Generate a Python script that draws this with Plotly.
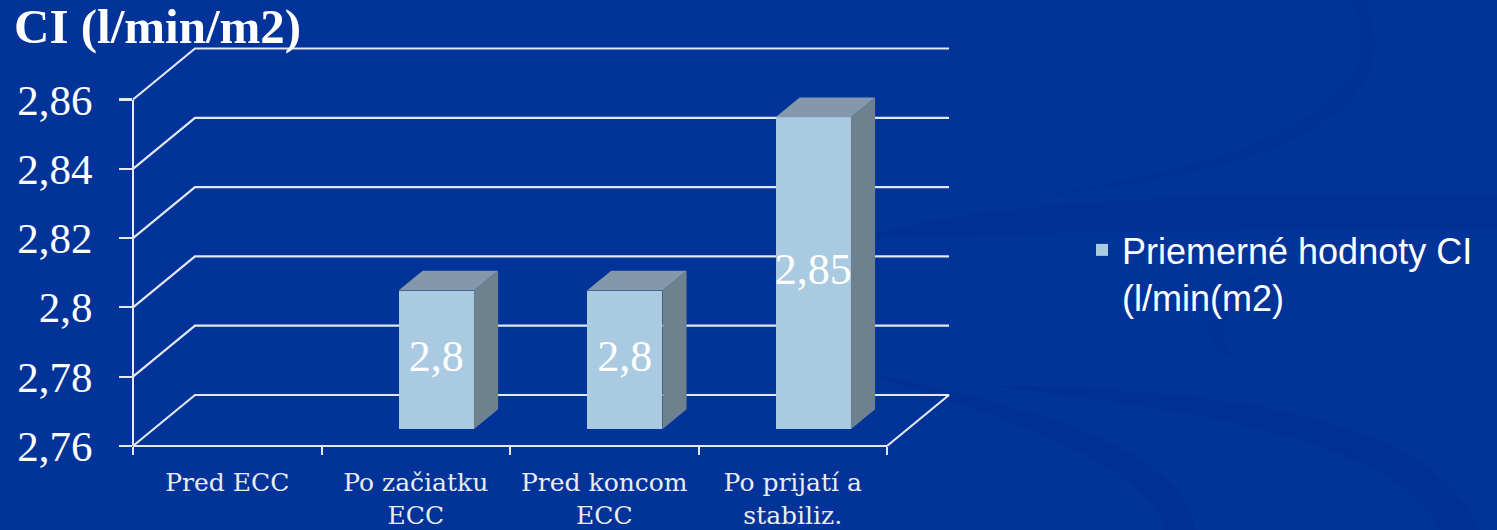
import plotly.graph_objects as go

# ---- data -------------------------------------------------------------
categories = ["Pred ECC", "Po začiatku ECC", "Pred koncom ECC", "Po prijatí a stabiliz."]
category_labels = ["Pred ECC", "Po začiatku<br>ECC", "Pred koncom<br>ECC", "Po prijatí a<br>stabiliz."]
ci_values = [None, 2.80, 2.80, 2.85]          # Pred ECC has no bar above the floor
y_ticks = [2.76, 2.78, 2.80, 2.82, 2.84, 2.86]
y_tick_labels = ["2,76", "2,78", "2,8", "2,82", "2,84", "2,86"]
series_name = "Priemerné hodnoty CI<br>(l/min(m2)"
axis_title = "CI (l/min/m2)"

# ---- page geometry (pixels) ----------------------------------------------
W_PX, H_PX = 1497, 530
LEFT_PX = 133          # front y axis
CAT_PX = 188.5         # width of one category on the front plane
FLOOR_PX = 446         # front floor edge (axis minimum)
STEP_PX = 69.3         # distance between two y ticks
DEPTH_PX = (62, 51)    # perspective offset of the back wall

BG = "#013399"
LINE = "rgb(228,232,242)"
FRONT = "#AACAE1"
TOP = "#8398AB"
SIDE = "#6D818F"
SERIF = "Liberation Serif"
SLAB = "DejaVu Serif"
SANS = "Liberation Sans"

n_cat = len(categories)
y_min, y_max = y_ticks[0], y_ticks[-1]
y_step = y_ticks[1] - y_ticks[0]
val_per_px = y_step / STEP_PX

x_range = [-LEFT_PX / CAT_PX, (W_PX - LEFT_PX) / CAT_PX]
y_range = [y_min - (H_PX - FLOOR_PX) * val_per_px, y_min + FLOOR_PX * val_per_px]
DX = DEPTH_PX[0] / CAT_PX
DY = DEPTH_PX[1] * val_per_px

BAR_W = 0.40           # bar width in category units
BAR_Z0 = 0.33          # front face position inside the depth
BAR_Z = 0.39           # bar depth as a share of the full depth

fig = go.Figure()

# ---- back wall + floor outlines (base layer) --------------------------------
gx, gy = [], []
for v in y_ticks:
    if v == y_min:
        gx += [0, DX, n_cat + DX, n_cat, None]
        gy += [v, v + DY, v + DY, v, None]
    else:
        gx += [0, DX, n_cat + DX, None]
        gy += [v, v + DY, v + DY, None]
fig.add_trace(go.Scatter(x=gx, y=gy, mode="lines", line=dict(color=LINE, width=2.2),
                         hoverinfo="skip", showlegend=False, xaxis="x", yaxis="y"))

# ---- 3D bars (overlay layer) ---------------------------------------------------
bx, bh = [], []
side_x, side_y, top_x, top_y = [], [], [], []
lab_x, lab_y, lab_t = [], [], []
base = y_min + BAR_Z0 * DY
for i, v in enumerate(ci_values):
    if v is None or v <= y_min:
        continue
    cx = i + 0.5 + BAR_Z0 * DX
    xl, xr = cx - BAR_W / 2, cx + BAR_W / 2
    top = v + BAR_Z0 * DY
    ddx, ddy = BAR_Z * DX, BAR_Z * DY
    bx.append(cx)
    bh.append(v - y_min)
    side_x += [xr, xr, xr + ddx, xr + ddx, xr, None]
    side_y += [base, top, top + ddy, base + ddy, base, None]
    top_x += [xl, xr, xr + ddx, xl + ddx, xl, None]
    top_y += [top, top, top + ddy, top + ddy, top, None]
    lab_x.append(i + 0.5)
    lab_y.append((v + y_min) / 2)
    lab_t.append(f"{v:g}".replace(".", ","))

fig.add_trace(go.Bar(x=bx, y=bh, base=base, width=BAR_W, name=series_name,
                     marker=dict(color=FRONT, line=dict(width=0)),
                     hoverinfo="skip", showlegend=True, xaxis="x2", yaxis="y2"))
fig.add_trace(go.Scatter(x=side_x, y=side_y, mode="lines", fill="toself", fillcolor=SIDE,
                         line=dict(width=0), hoverinfo="skip", showlegend=False,
                         xaxis="x2", yaxis="y2"))
fig.add_trace(go.Scatter(x=top_x, y=top_y, mode="lines", fill="toself", fillcolor=TOP,
                         line=dict(width=0), hoverinfo="skip", showlegend=False,
                         xaxis="x2", yaxis="y2"))

# value labels on the front faces (front-plane axes, shifted into the depth)
fig.add_trace(go.Scatter(x=[x + BAR_Z0 * DX for x in lab_x],
                         y=[y + BAR_Z0 * DY for y in lab_y],
                         mode="text", text=lab_t, cliponaxis=False,
                         textfont=dict(family=SERIF, size=44, color="white"),
                         hoverinfo="skip", showlegend=False, xaxis="x3", yaxis="y3"))

# ---- background swooshes -----------------------------------------------------
def P(x, y):
    return f"{x / W_PX:.5f},{1 - y / H_PX:.5f}"

def band(upper, lower):
    """Closed path between two cubic curves given as 4 control points each."""
    u, l = upper, lower[::-1]
    return ("M" + P(*u[0]) + " C" + " ".join(P(*p) for p in u[1:])
            + " L" + P(*l[0]) + " C" + " ".join(P(*p) for p in l[1:]) + " Z")

swooshes = [
    (band([(850, 240), (1000, 195), (1250, 192), (1497, 195)],
          [(850, 240), (1000, 232), (1250, 230), (1497, 228)]), 0.10),
    (band([(1350, 0), (1395, 80), (1320, 160), (1000, 200)],
          [(1364, 0), (1405, 90), (1330, 172), (1000, 200)]), 0.09),
    (band([(860, 372), (1050, 410), (1180, 450), (1195, 530)],
          [(860, 372), (1040, 428), (1150, 470), (1165, 530)]), 0.11),
    (band([(980, 385), (1250, 390), (1430, 420), (1480, 530)],
          [(980, 385), (1240, 413), (1400, 450), (1440, 530)]), 0.11),
    (band([(1275, 265), (1200, 300), (1190, 340), (1240, 362)],
          [(1275, 265), (1220, 300), (1210, 335), (1240, 362)]), 0.08),
]
shapes = [dict(type="path", path=p, xref="paper", yref="paper", layer="below",
               fillcolor=f"rgba(0,30,110,{a})", line=dict(width=0)) for p, a in swooshes]

hidden = dict(visible=False, showgrid=False, zeroline=False, fixedrange=True, automargin=False)

fig.update_layout(
    template="none",
    width=W_PX, height=H_PX,
    margin=dict(l=0, r=0, t=0, b=0, pad=0, autoexpand=False),
    paper_bgcolor=BG, plot_bgcolor="rgba(0,0,0,0)",
    separators=",.",
    shapes=shapes,
    bargap=0, barmode="overlay",
    xaxis=dict(range=x_range, domain=[0, 1], anchor="y", **hidden),
    yaxis=dict(range=y_range, domain=[0, 1], anchor="x", **hidden),
    xaxis2=dict(range=x_range, overlaying="x", anchor="y2", **hidden),
    yaxis2=dict(range=y_range, overlaying="y", anchor="x2", **hidden),
    xaxis3=dict(
        range=[0, n_cat],
        domain=[LEFT_PX / W_PX, (LEFT_PX + n_cat * CAT_PX) / W_PX],
        anchor="free", position=(H_PX - FLOOR_PX) / H_PX,
        showgrid=False, zeroline=False, fixedrange=True, automargin=False,
        showline=True, linecolor=LINE, linewidth=2.2,
        tickmode="array", tickvals=[i + 0.5 for i in range(n_cat)], ticktext=category_labels,
        ticks="", ticklabelstandoff=14,
        tickfont=dict(family=SLAB, size=25, color="rgb(235,235,240)"),
        minor=dict(tickmode="array", tickvals=list(range(n_cat + 1)), ticks="outside",
                   ticklen=8, tickwidth=2, tickcolor=LINE, showgrid=False),
    ),
    yaxis3=dict(
        range=[y_min, y_max],
        domain=[(H_PX - FLOOR_PX) / H_PX, (H_PX - FLOOR_PX + (y_max - y_min) / val_per_px) / H_PX],
        anchor="free", position=LEFT_PX / W_PX,
        showgrid=False, zeroline=False, fixedrange=True, automargin=False,
        showline=True, linecolor=LINE, linewidth=2.2,
        tickmode="array", tickvals=y_ticks, ticktext=y_tick_labels,
        ticks="outside", ticklen=13, tickwidth=2.2, tickcolor=LINE,
        ticklabelstandoff=18,
        tickfont=dict(family=SERIF, size=43, color="white"),
    ),
    legend=dict(
        x=1082 / W_PX, xanchor="left", y=1 - 220 / H_PX, yanchor="top",
        valign="top", bgcolor="rgba(0,0,0,0)", borderwidth=0,
        font=dict(family=SANS, size=36, color="white"),
    ),
    annotations=[dict(
        text="<b>" + axis_title + "</b>", xref="paper", yref="paper",
        x=12 / W_PX, xanchor="left", y=1 - 27 / H_PX, yanchor="middle",
        showarrow=False, font=dict(family=SERIF, size=49, color="white"),
    )],
)

fig.write_html("out.html", config={"displayModeBar": False, "staticPlot": True})
